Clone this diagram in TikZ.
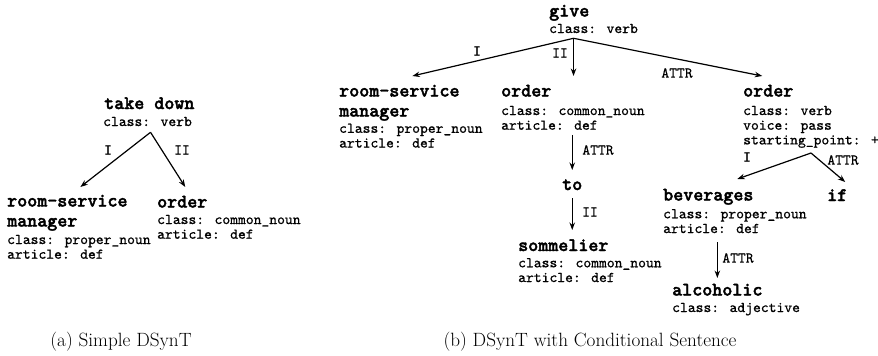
\documentclass[tikz,border=0pt]{standalone}
\usepackage{fontspec}
\usetikzlibrary{arrows.meta}

\newfontfamily\featmono[FakeBold=0.8]{lmmono10-regular.otf}
\newfontfamily\lexmono[FakeBold=2]{lmmonolt10-bold.otf}
\newcommand\lexfont{\lexmono\fontsize{19.1}{20}\selectfont}
\newcommand\featfont{\featmono\fontsize{14.9}{14.7}\selectfont}
\newcommand\capfont{\fontsize{19.2}{22}\selectfont}

\tikzset{
  lex/.style={font=\lexfont, inner sep=0pt, align=left, anchor=base west},
  feat/.style={font=\featfont, inner sep=0pt, align=left, anchor=base west},
  rel/.style={font=\featfont, inner sep=0pt},
  dep/.style={line width=1.2pt, -{Stealth[length=7.5pt,width=5.5pt]}},
  subcap/.style={font=\capfont, inner sep=0pt, anchor=base}
}

\begin{document}
\begin{tikzpicture}[x=1pt,y=-1pt]
\useasboundingbox (0,0) rectangle (878,356);

% (a) take down
% multi-line nodes sit on the baseline of their last line
\node[lex]  (tdT)   at (104,109)   {take down};
\node[feat] (tdF)   at (103,126)   {class: verb};
\node[lex]  (rsmAT) at (7,226.5)   {room-service\\manager};
\node[feat] (rsmAF) at (7,258.7)   {class: proper\_noun\\article: def};
\node[lex]  (ordAT) at (157,207.5) {order};
\node[feat] (ordAF) at (157,238.7) {class: common\_noun\\article: def};
\coordinate (tdJ) at ([xshift=3pt,yshift=-6pt]tdF.south);
\draw[dep] (tdJ) -- ([xshift=13pt,yshift=39.5pt]rsmAT.base);
\draw[dep] (tdJ) -- ([xshift=3pt,yshift=20.5pt]ordAT.base);
\node[rel] (relAI)  at (108,150) {I};
\node[rel] (relAII) at (182,150) {II};

% (b) give
\node[lex]  (giveT) at (549,16.5)  {give};
\node[feat] (giveF) at (549,33)    {class: verb};
\node[lex]  (rsmBT) at (339,116.5) {room-service\\manager};
\node[feat] (rsmBF) at (339,147.5) {class: proper\_noun\\article: def};
\node[lex]  (ordBT) at (501,96.5)  {order};
\node[feat] (ordBF) at (501,129.7) {class: common\_noun\\article: def};
\node[lex]  (ordRT) at (743,96.5)  {order};
\node[feat] (ordRF) at (743,144.4) {class: verb\\voice: pass\\starting\_point: +};
\coordinate (giveJ) at ([xshift=-20pt,yshift=-5pt]giveF.south);
\draw[dep] (giveJ) -- ([xshift=13pt,yshift=40.5pt]rsmBT.base);
\draw[dep, shorten >=20.5pt] (giveJ) -- (giveJ |- ordBT.base);
\draw[dep] (giveJ) -- ([xshift=-6pt,yshift=20.5pt]ordRT.base);
\node[rel] (relBI)    at (477,51) {I};
\node[rel] (relBII)   at (560,53) {II};
\node[rel] (relBATTR) at (677,73) {ATTR};

% order -> to -> sommelier
\node[lex]  (toT)   at (562,190)   {to};
\node[lex]  (somT)  at (518,251)   {sommelier};
\node[feat] (somF)  at (518,282)   {class: common\_noun\\article: def};
\draw[dep, shorten <=5pt, shorten >=20pt] (ordBF.south -| toT.base) -- (toT.base);
\draw[dep, shorten <=8pt, shorten >=21pt] (toT.base) -- (toT.base |- somT.base);
\node[rel] (relCATTR) at (598,150) {ATTR};
\node[rel] (relCII)   at (590,212) {II};

% order (verb) -> beverages, if
\node[lex]  (bevT)  at (663,200.5) {beverages};
\node[feat] (bevF)  at (663,233)   {class: proper\_noun\\article: def};
\node[lex]  (ifT)   at (827,201)   {if};
\coordinate (ordJ) at ([yshift=-5pt]ordRF.south);
\draw[dep] (ordJ) -- ([xshift=29pt,yshift=21.5pt]bevT.base);
\draw[dep] (ordJ) -- ([xshift=8pt,yshift=19pt]ifT.base);
\node[rel] (relDI)    at (747,157) {I};
\node[rel] (relDATTR) at (843,160) {ATTR};

% beverages -> alcoholic
\node[lex]  (alcT)  at (672,295.5) {alcoholic};
\node[feat] (alcF)  at (672,312)   {class: adjective};
\draw[dep, shorten <=9pt, shorten >=17.5pt] (bevF.south -| alcT.base) -- (alcT.base);
\node[rel] (relEATTR) at (738,258) {ATTR};

% sub-captions
\node[subcap] (capA) at (121,346) {(a) Simple DSynT};
\node[subcap] (capB) at (590,346) {(b) DSynT with Conditional Sentence};
\end{tikzpicture}
\end{document}
